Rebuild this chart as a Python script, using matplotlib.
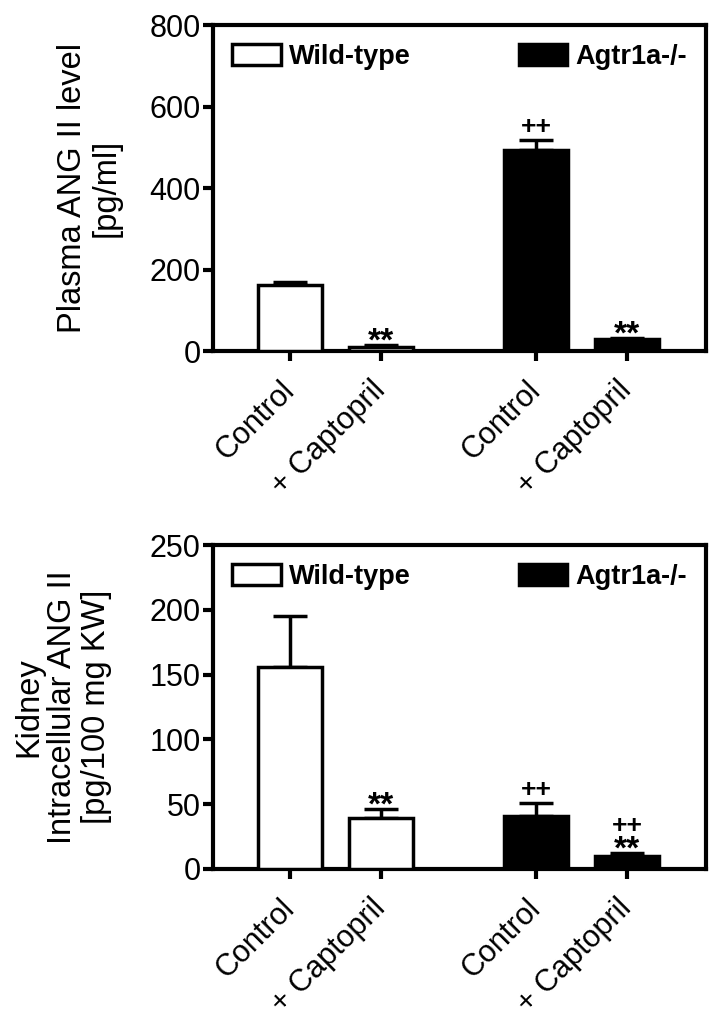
"""ANG II levels: plasma and kidney intracellular, wild-type vs Agtr1a-/-"""

import matplotlib as mpl
mpl.use('Agg')
import matplotlib.pyplot as plt

plt.rcParams['font.family'] = ['Liberation Sans', 'DejaVu Sans']

tick_labels = ['Control', '+ Captopril', 'Control', '+ Captopril']
genotypes = ['Wild-type', 'Agtr1a-/-']
x_pos = [0, 1, 2.69, 3.69]
fills = ['white', 'white', 'black', 'black']

plasma_mean = [161, 10, 493, 29]
plasma_sem = [8, 4, 25, 3]
plasma_marks = ['', '**', '++', '**']

kidney_mean = [156, 39, 41, 10]
kidney_sem = [39, 7, 10, 2]
kidney_marks = ['', '**', '++', '++\n**']

# baseline offset (points) above the top of the error bar, and size, per symbol
mark_offset = {'**': -4, '++': 4}
mark_size = {'**': 24, '++': 19}
stack_offset = 15  # upper symbol of a stacked pair


def draw_panel(ax, mean, sem, marks, ymax, ystep, ylabel, label_x):
    bars = ax.bar(x_pos, mean, width=0.70, color=fills, edgecolor='black',
                  linewidth=2.5, zorder=3)
    ax.errorbar(x_pos, mean, yerr=[[0] * len(sem), sem], fmt='none',
                ecolor='black', elinewidth=2.5, capsize=12, capthick=2.5,
                zorder=2)
    for x, m, s, mk in zip(x_pos, mean, sem, marks):
        if not mk:
            continue
        lines = mk.split('\n')[::-1]
        for i, sym in enumerate(lines):
            off = mark_offset[sym] if i == 0 else stack_offset
            ax.annotate(sym, xy=(x, m + s), xytext=(0, off),
                        textcoords='offset points', ha='center', va='baseline',
                        fontsize=mark_size[sym], fontweight='bold')

    ax.set_xlim(-0.84, 4.55)
    ax.set_ylim(0, ymax)
    ax.set_yticks(range(0, ymax + 1, ystep))
    ax.set_xticks(x_pos)
    ax.set_xticklabels(tick_labels, rotation=45, ha='right', va='center',
                       rotation_mode='anchor')
    ax.tick_params(axis='both', direction='out', length=7, width=3, labelsize=22)
    ax.tick_params(axis='y', pad=2)
    ax.tick_params(axis='x', pad=18)
    for sp in ax.spines.values():
        sp.set_linewidth(3)

    ax.set_ylabel(ylabel, fontsize=23.5, linespacing=1.12)
    ax.yaxis.set_label_coords(label_x, 0.5)

    ax.legend([bars[0], bars[2]], genotypes, loc='upper left',
              bbox_to_anchor=(0, 0, 1, 1), mode='expand', ncol=2,
              frameon=False, borderaxespad=0.5, borderpad=0.2,
              handlelength=1.8, handleheight=0.8, handletextpad=0.3,
              prop={'weight': 'bold', 'size': 19.5})


def main():
    fig = plt.figure(figsize=(7.18, 10.21), dpi=100)
    ax1 = fig.add_axes([0.2967, 0.6562, 0.6866, 0.3193])
    ax2 = fig.add_axes([0.2967, 0.1489, 0.6866, 0.3173])

    draw_panel(ax1, plasma_mean, plasma_sem, plasma_marks, 800, 200,
               'Plasma ANG II level\n[pg/ml]', -0.185)
    draw_panel(ax2, kidney_mean, kidney_sem, kidney_marks, 250, 50,
               'Kidney\nIntracellular ANG II\n[pg/100 mg KW]', -0.205)

    fig.savefig('out.png', dpi=100)


if __name__ == '__main__':
    main()
